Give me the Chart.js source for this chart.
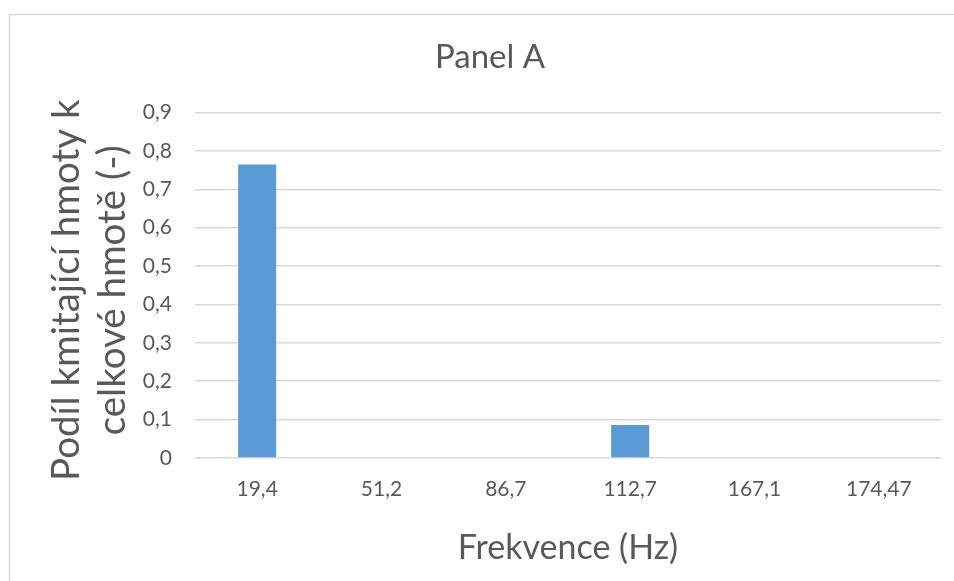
<!DOCTYPE html>
<html>
<head>
<meta charset="utf-8">
<script src="https://cdn.jsdelivr.net/npm/chart.js@4"></script>
<style>
  html, body { margin: 0; padding: 0; background: #fff; }
  #wrap { width: 954px; height: 581px; }
</style>
</head>
<body>
<div id="wrap"><canvas id="myChart" width="954" height="581"></canvas></div>
<script>
// frequencies of the modes and the share of vibrating mass for each
const frequencies = ['19,4', '51,2', '86,7', '112,7', '167,1', '174,47'];
const massShare = [0.765, 0, 0, 0.086, 0, 0];
const yTickLabels = ['0', '0,1', '0,2', '0,3', '0,4', '0,5', '0,6', '0,7', '0,8', '0,9'];

const textColor = '#595959';
const gridColor = '#d9d9d9';
Chart.defaults.font.family = 'Lato';
Chart.defaults.color = textColor;

// thin grey frame around the whole chart
const frame = {
    id: 'frame',
    beforeDraw(chart) {
        const ctx = chart.ctx;
        ctx.save();
        ctx.fillStyle = '#fff';
        ctx.fillRect(0, 0, chart.width, chart.height);
        ctx.strokeStyle = gridColor;
        ctx.lineWidth = 1.5;
        ctx.strokeRect(9.5, 14.5, 1000, 1000);
        ctx.restore();
    }
};

let ctx = document.getElementById('myChart').getContext('2d');
let modeChart = new Chart(ctx, {
    type: 'bar',
    data: {
        labels: frequencies,
        datasets: [{
            label: 'Podíl hmoty',
            data: massShare,
            backgroundColor: '#5b9bd5',
            categoryPercentage: 1,
            barPercentage: 0.306
        }]
    },
    options: {
        responsive: false,
        animation: false,
        layout: { padding: { left: 39, right: 13, top: 0, bottom: 0 } },
        plugins: {
            legend: { display: false },
            tooltip: { enabled: false },
            title: {
                display: true,
                text: 'Panel A',
                color: textColor,
                font: { size: 33, weight: 'normal', lineHeight: 1.2 },
                padding: { top: 38, bottom: 35 }
            }
        },
        scales: {
            x: {
                grid: { display: false, drawTicks: false },
                border: { display: false },
                ticks: { color: textColor, font: { size: 21 }, padding: 19 },
                title: {
                    display: true,
                    text: 'Frekvence (Hz)',
                    color: textColor,
                    font: { size: 34, lineHeight: 1.2 },
                    padding: { top: 0, bottom: 13 }
                },
                afterFit(scale) { scale.height = 123; }
            },
            y: {
                min: 0,
                max: 0.9,
                ticks: {
                    stepSize: 0.1,
                    color: textColor,
                    font: { size: 21 },
                    padding: 23,
                    callback: (value, i) => yTickLabels[i]
                },
                grid: { color: gridColor, lineWidth: 1.5, drawTicks: false },
                border: { display: false },
                title: {
                    display: true,
                    text: ['Podíl kmitající hmoty k ', 'celkové hmotě (-) '],
                    color: textColor,
                    font: { size: 38.5, lineHeight: 1.2 },
                    padding: { top: 4, bottom: 0 }
                },
                afterFit(scale) { scale.width = 156; }
            }
        }
    },
    plugins: [frame]
});
</script>
</body>
</html>
